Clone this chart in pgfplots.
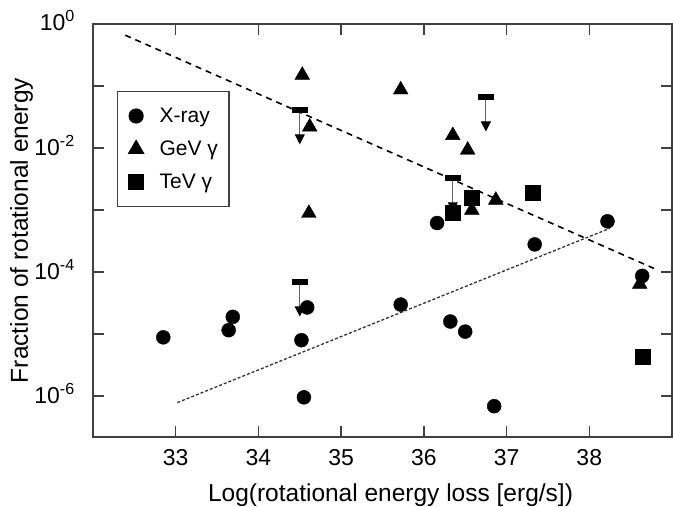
\documentclass[border=0pt]{standalone}
\usepackage{fontspec}
\setmainfont{Liberation Sans}
\usepackage{pgfplots}
\pgfplotsset{compat=1.18}
\usetikzlibrary{arrows.meta}
\begin{document}
\begin{tikzpicture}
\begin{axis}[
 scale only axis, width=579pt, height=413pt,
 xmin=32, xmax=39, ymode=log, ymin=2.2e-7, ymax=1,
 xtick={33,...,38},
 ytick={1e-6,1e-4,1e-2,1},
 yticklabels={10\textsuperscript{-6},10\textsuperscript{-4},10\textsuperscript{-2},10\textsuperscript{0}},
 extra y ticks={1e-5,1e-3,1e-1}, extra y tick labels={},
 yminorticks=false,
 /pgf/number format/assume math mode=true,
 tick align=inside, major tick length=11pt,
 tick style={black!75, line width=1.5pt},
 axis line style={black!75, line width=1.8pt},
 tick label style={font=\fontsize{23}{27}\selectfont},
 xticklabel style={anchor=base, inner sep=0pt, yshift=-28pt},
 yticklabel style={anchor=base east, inner sep=0pt, xshift=-18pt, yshift=-7pt},
 label style={font=\fontsize{24.5}{29}\selectfont},
 xlabel={Log(rotational energy loss [erg/s])},
 ylabel={Fraction of rotational energy},
 xlabel style={at={([xshift=8pt,yshift=-64pt]rel axis cs:0.5,0)}, anchor=base, inner sep=0pt},
 ylabel style={at={([xshift=-65pt]rel axis cs:0,0.5)}, anchor=base, inner sep=0pt},
 legend style={at={(0.0415,0.838)}, anchor=north west, draw=black!75, line width=1.2pt,
   font=\fontsize{21}{25}\selectfont, row sep=12pt, column sep=16pt,
   inner xsep=11pt, inner ysep=14pt,
   nodes={inner sep=0pt, text height=17pt, text depth=4pt}},
 legend cell align=left,
]
\addplot[only marks, mark=*, mark size=7pt, black] coordinates {
(32.85,8.9e-6) (33.69,1.9e-5) (33.64,1.16e-5) (34.55,9.6e-7) (34.52,8.0e-6)
(34.59,2.7e-5) (35.72,3.0e-5) (36.32,1.6e-5) (36.50,1.1e-5) (36.85,6.9e-7)
(36.16,6.2e-4) (37.34,2.8e-4) (38.22,6.6e-4) (38.64,8.7e-5)
};
\addlegendentry{X-ray}
\addplot[only marks, mark=triangle*, mark size=8.5pt, black] coordinates {
(34.53,0.15) (35.72,0.087) (34.62,0.022) (34.61,8.9e-4) (36.35,0.016)
(36.53,9.3e-3) (36.87,1.45e-3) (36.58,1.0e-3) (38.61,6.4e-5)
};
\addlegendentry{GeV γ}
\addplot[only marks, mark=square*, mark size=7.5pt, black] coordinates {
(37.32,1.9e-3) (38.65,4.3e-6) (36.35,9e-4) (36.58,1.56e-3)
};
\addlegendentry{TeV γ}
\addplot[black, line width=1.6pt, dash pattern=on 6pt off 5pt, forget plot] coordinates {
(32.39,0.66) (38.80,1.12e-4)
};
\addplot[black!80, line width=1.3pt, dash pattern=on 3pt off 2pt, forget plot] coordinates {
(33.02,7.9e-7) (38.25,5.1e-4)
};
\addplot[only marks, mark=-, mark size=8pt, mark options={line width=6pt}, black, forget plot] coordinates {
(34.50,0.041) (36.75,0.066) (36.35,3.3e-3) (34.50,6.9e-5)
};
\addplot[black!60, line width=1pt, -{Triangle[width=10pt,length=10pt,black]}, forget plot] coordinates {(34.50,0.041) (34.50,0.0115)};
\addplot[black!60, line width=1pt, -{Triangle[width=10pt,length=10pt,black]}, forget plot] coordinates {(36.75,0.066) (36.75,0.0185)};
\addplot[black!60, line width=1pt, -{Triangle[width=10pt,length=10pt,black]}, forget plot] coordinates {(36.35,3.3e-3) (36.35,9.2e-4)};
\addplot[black!60, line width=1pt, -{Triangle[width=10pt,length=10pt,black]}, forget plot] coordinates {(34.50,6.9e-5) (34.50,1.93e-5)};
\end{axis}
\pgfresetboundingbox
\path ([xshift=-93pt,yshift=-69pt]current axis.south west) rectangle ([xshift=1pt,yshift=24pt]current axis.north east);
\end{tikzpicture}
\end{document}
